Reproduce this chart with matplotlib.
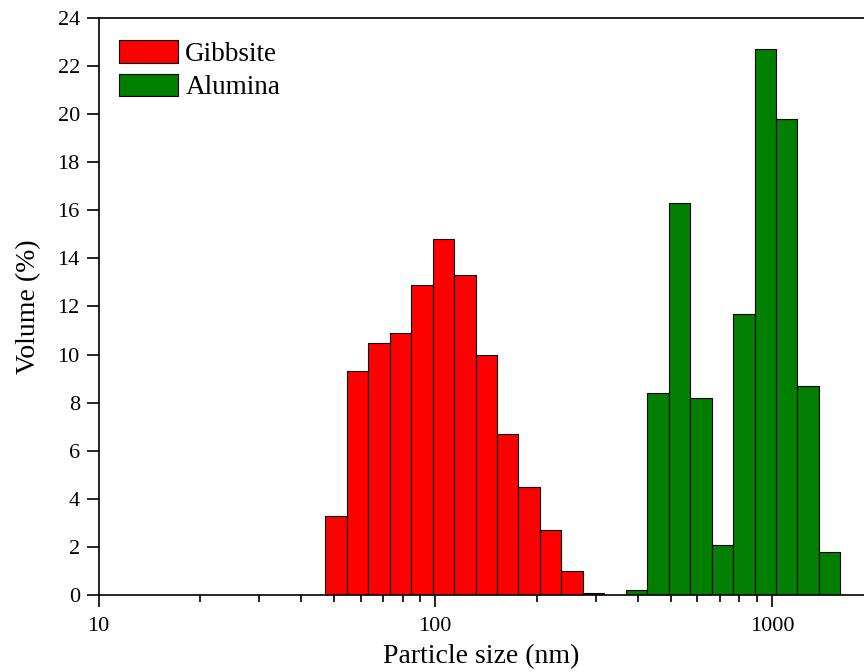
import numpy as np
import matplotlib.pyplot as plt
from matplotlib.patches import Patch

# size classes (nm), log-spaced bins
gibbsite_size = [50.75, 58.77, 68.06, 78.82, 91.28, 105.7, 122.4, 141.8,
                 164.2, 190.1, 220.2, 255.0, 295.3]
gibbsite_vol = [3.3, 9.3, 10.5, 10.9, 12.9, 14.8, 13.3, 10.0, 6.7, 4.5, 2.7, 1.0, 0.1]

alumina_size = [396.1, 458.7, 531.2, 615.1, 712.4, 825.0, 955.4, 1106.0, 1281.0, 1484.0]
alumina_vol = [0.2, 8.4, 16.3, 8.2, 2.1, 11.7, 22.7, 19.8, 8.7, 1.8]

plt.rcParams['font.family'] = ['Liberation Serif', 'DejaVu Serif']

fig = plt.figure(figsize=(8.64, 6.72), dpi=100)
ax = fig.add_axes([0.1141, 0.1146, 0.9344, 0.8586])

step = 0.0637  # bin width in decades


def log_bars(sizes, vals, color):
    s = np.array(sizes)
    left = s * 10 ** (-step / 2)
    right = s * 10 ** (step / 2)
    ax.bar(left, vals, width=right - left, align='edge', color=color,
           edgecolor='black', linewidth=0.8)


log_bars(gibbsite_size, gibbsite_vol, '#ff0000')
log_bars(alumina_size, alumina_vol, '#007f00')

ax.set_xscale('log')
ax.set_xlim(10, 2500)
ax.set_ylim(0, 24)
ax.set_yticks(range(0, 25, 2))
ax.set_xticks([10, 100, 1000])
ax.set_xticklabels(['10', '100', '1000'])
ax.tick_params(axis='both', which='major', direction='out', length=8.5, width=1.2,
               labelsize=16, top=False, right=False)
ax.tick_params(axis='y', which='major', pad=5)
ax.tick_params(axis='x', which='major', pad=7)
ax.tick_params(axis='x', which='minor', direction='out', length=5, width=1.2,
               top=False)
ax.tick_params(axis='y', which='minor', left=False, right=False)
ax.spines['right'].set_visible(False)
for sp in ['left', 'bottom', 'top']:
    ax.spines[sp].set_linewidth(1.2)

ax.set_xlabel('Particle size (nm)', fontsize=20, labelpad=6)
ax.xaxis.set_label_coords(0.4737, -0.0855)
ax.set_ylabel('Volume (%)', fontsize=20, labelpad=12)

handles = [Patch(facecolor='#ff0000', edgecolor='black', linewidth=0.8, label='Gibbsite'),
           Patch(facecolor='#007f00', edgecolor='black', linewidth=0.8, label='Alumina')]
ax.legend(handles=handles, loc='upper left', bbox_to_anchor=(0.0, 0.997),
          frameon=False, fontsize=19.5, handlelength=2.2, handleheight=0.92,
          handletextpad=0.25, labelspacing=0.25, borderaxespad=0.35)

fig.savefig('out.png', dpi=100)
